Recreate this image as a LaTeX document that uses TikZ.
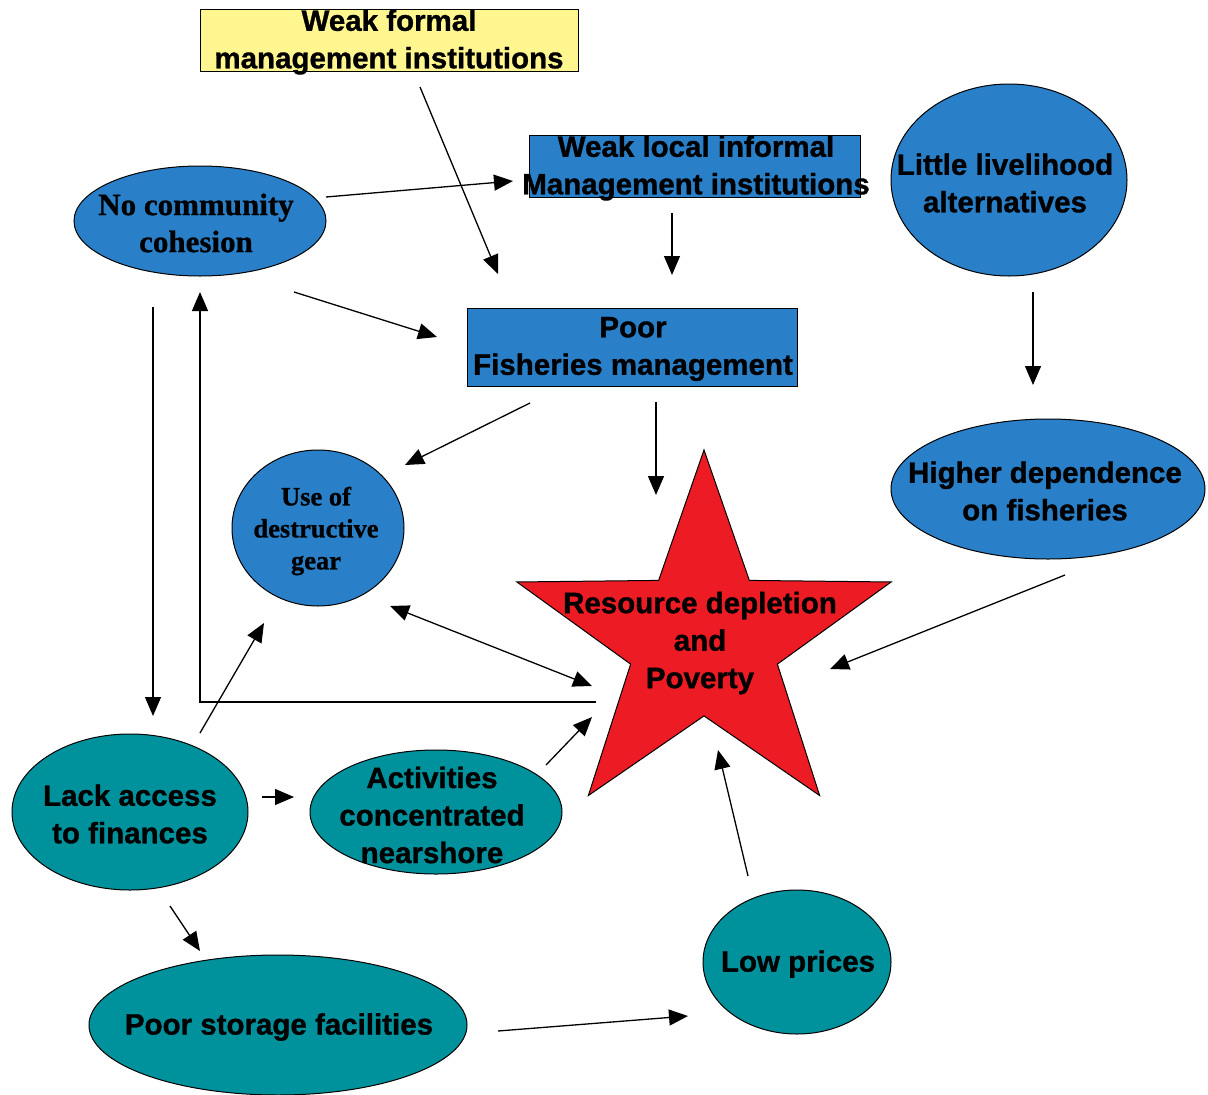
\documentclass[tikz,border=0pt]{standalone}
\usepackage{fontspec}
\setmainfont{Liberation Serif}[BoldFeatures={FakeBold=0.8}]
\setsansfont{Liberation Sans}[BoldFeatures={FakeBold=1}]
\usepackage{tikz}
\usetikzlibrary{arrows.meta,calc,shapes.geometric}
\definecolor{boxyellow}{RGB}{255,246,143}
\definecolor{ovalblue}{RGB}{41,128,200}
\definecolor{ovalteal}{RGB}{0,146,156}
\definecolor{starred}{RGB}{237,28,36}

\begin{document}
\begin{tikzpicture}[x=1pt,y=-1pt,>={Triangle[length=19pt,width=16pt]},
  conn/.style={line width=1.3pt},
  boxnode/.style={rectangle,draw,line width=1pt,inner sep=0pt},
  ovalnode/.style={ellipse,draw,line width=1pt,inner sep=0pt},
  sanstxt/.style={align=center,font=\sffamily\bfseries\fontsize{29.5}{37.5}\selectfont},
  seriftxt/.style={align=center,font=\rmfamily\bfseries\fontsize{31}{37}\selectfont}]
  \useasboundingbox (0,0) rectangle (1208,1095);
  % boxes
  \node[boxnode,fill=boxyellow,minimum width=378pt,minimum height=62pt] (wfi) at (389,40) {};
  \node[sanstxt] (wfi-t) at (389,42) {Weak formal\\management institutions};
  \node[boxnode,fill=ovalblue,minimum width=331pt,minimum height=62pt] (wli) at (694.5,166) {};
  \node[sanstxt] (wli-t) at (696,168) {Weak local informal\\Management institutions};
  \node[boxnode,fill=ovalblue,minimum width=330pt,minimum height=78pt] (pfm) at (632,347) {};
  \node[sanstxt] (pfm-t) at (633,349) {Poor\\Fisheries management};
  % blue ovals
  \node[ovalnode,fill=ovalblue,minimum width=252pt,minimum height=110pt] (ncc) at (200,221) {};
  \node[seriftxt] (ncc-t) at (196,223) {No community\\cohesion};
  \node[ovalnode,fill=ovalblue,minimum width=236pt,minimum height=192pt] (lla) at (1009,180) {};
  \node[sanstxt] (lla-t) at (1005,183) {Little livelihood\\alternatives};
  \node[ovalnode,fill=ovalblue,minimum width=172pt,minimum height=156pt] (udg) at (318,528) {};
  \node[seriftxt,font=\rmfamily\bfseries\fontsize{26.5}{32}\selectfont] (udg-t) at (316,531) {Use of\\destructive\\gear};
  \node[ovalnode,fill=ovalblue,minimum width=314pt,minimum height=140pt] (hdf) at (1048,489) {};
  \node[sanstxt] (hdf-t) at (1045,491) {Higher dependence\\on fisheries};
  % the star
  \node[star,star points=5,star point ratio=2.55,minimum size=382pt,inner sep=0pt,
        draw,line width=1pt,fill=starred,xscale=1.03] (res) at (704,641) {};
  \node[sanstxt] (res-t) at (700,643) {Resource depletion\\and\\Poverty};
  % teal ovals
  \node[ovalnode,fill=ovalteal,minimum width=236pt,minimum height=156pt] (laf) at (130,812) {};
  \node[sanstxt] (laf-t) at (130,814) {Lack access\\to finances};
  \node[ovalnode,fill=ovalteal,minimum width=252pt,minimum height=124pt] (acn) at (436,812) {};
  \node[sanstxt] (acn-t) at (432,815) {Activities\\concentrated\\nearshore};
  \node[ovalnode,fill=ovalteal,minimum width=188pt,minimum height=144pt] (lop) at (797,962) {};
  \node[sanstxt] (lop-t) at (798,964) {Low prices};
  \node[ovalnode,fill=ovalteal,minimum width=378pt,minimum height=140pt] (psf) at (278,1025) {};
  \node[sanstxt] (psf-t) at (279,1027) {Poor storage facilities};
  % connectors
  \draw[conn,->] ($(wfi)+(31,47)$) -- ($(pfm)+(-134,-73)$);
  \draw[conn,->] ($(ncc)+(126,-24)$) -- ($(wli)+(-181.5,15)$);
  \draw[conn,->] ($(wli)+(-22.5,47)$) -- ($(pfm)+(40,-72)$);
  \draw[conn,->] ($(ncc)+(94,71)$) -- ($(pfm)+(-195,-10)$);
  \draw[conn,->] ($(lla)+(24,112)$) -- ($(hdf)+(-15,-104)$);
  \draw[conn,->] ($(pfm)+(-102,56)$) -- ($(udg)+(87,-63)$);
  \draw[conn,->] ($(pfm)+(24,55)$) -- ($(res)+(-48,-146)$);
  \draw[conn,->] ($(hdf)+(17,86)$) -- ($(res)+(126,28)$);
  \draw[conn,<->] ($(udg)+(72,78)$) -- ($(res)+(-112,45)$);
  \draw[conn,->] ($(res)+(-108,61)$) -| ($(ncc)+(0,71)$);
  \draw[conn,->] ($(ncc)+(-47,86)$) -- ($(laf)+(23,-96)$);
  \draw[conn,->] ($(laf)+(70,-79)$) -- ($(udg)+(-54,95)$);
  \draw[conn,->] ($(laf)+(132,-15)$) -- ($(acn)+(-142,-15)$);
  \draw[conn,->] ($(acn)+(110,-47)$) -- ($(res)+(-112,76)$);
  \draw[conn,->] ($(laf)+(40,94)$) -- ($(psf)+(-78,-74)$);
  \draw[conn,->] ($(psf)+(220,6)$) -- ($(lop)+(-109,54)$);
  \draw[conn,->] ($(lop)+(-49,-86)$) -- ($(res)+(14,109)$);
\end{tikzpicture}
\end{document}
